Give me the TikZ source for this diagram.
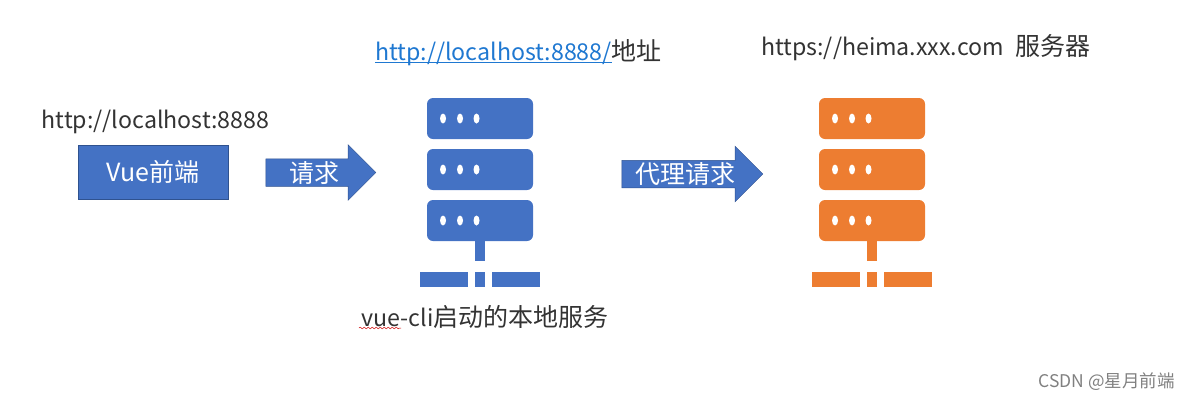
\documentclass[tikz,border=0pt]{standalone}
\usepackage{fontspec}
\setmainfont{Noto Sans CJK SC}
\usetikzlibrary{shapes.arrows,decorations.pathmorphing}
\definecolor{vueblue}{HTML}{4472C4}
\definecolor{vueedge}{HTML}{2F528F}
\definecolor{heimaorange}{HTML}{ED7D31}
\definecolor{linkblue}{HTML}{1F78D1}
\definecolor{labelgray}{HTML}{333333}
\newsavebox{\linkbox}
\newcommand{\linkword}[1]{\sbox{\linkbox}{#1}\rlap{\rule[-3pt]{\wd\linkbox}{1pt}}\usebox{\linkbox}}
\newcommand{\cnword}[1]{{\fontsize{25}{25}\selectfont #1}}
\newcommand{\serverrack}[2]{
	\begin{scope}[xshift=#1pt,fill=#2]
		\foreach \rowtop in {98,149,200}{
			\fill[#2,rounded corners=6pt] (427,\rowtop) rectangle (533,\rowtop+41);
			\foreach \dotx in {443,460,476.5}
				\fill[white] (\dotx,\rowtop+20.5) ellipse (3 and 5);
		}
		\fill[#2] (475,241) rectangle (485,261);
		\fill[#2] (420,272) rectangle (468,287);
		\fill[#2] (475,272) rectangle (485,287);
		\fill[#2] (492,272) rectangle (540,287);
	\end{scope}
}
\begin{document}
\begin{tikzpicture}[x=1pt,y=-1pt]
	\tikzset{label text/.style={text=labelgray,font=\fontsize{23.2}{24}\selectfont,inner sep=0pt}}
	\tikzset{flow arrow/.style={single arrow,draw=vueedge,fill=vueblue,text=white,font=\fontsize{25}{25}\selectfont,inner sep=0pt,single arrow head extend=14pt,text height=23pt,text depth=4pt,minimum width=55pt,line width=0.5pt}}
	\useasboundingbox (0,0) rectangle (1190,400);
	\node[label text] (frontendurl) at (155.5,122) {http://localhost:8888};
	\node[draw=vueedge,fill=vueblue,text=white,font=\fontsize{25}{25}\selectfont,minimum width=149.5pt,minimum height=54pt,inner sep=0pt,line width=0.5pt] (frontend) at (153,172) {Vue前端};
	\node[flow arrow,minimum height=110pt] (request) at (314,172.5) {请求};
	\node[label text] (localurl) at (518.5,52.5) {\textcolor{linkblue}{\linkword{http://localhost:8888/}}\cnword{地址}};
	\serverrack{0}{vueblue}
	\node[label text] (localservice) at (485,317) {vue-cli\cnword{启动的本地服务}};
	\coordinate (squigglestart) at (359,328);
	\coordinate (squiggleend) at (401,328);
	\draw[red!80!black,line width=0.5pt,decorate,decoration={snake,amplitude=0.8pt,segment length=4pt}] (squigglestart) -- (squiggleend);
	\node[flow arrow,minimum height=141pt] (proxyrequest) at (685.5,174) {代理请求};
	\node[label text] (remoteurl) at (926,48) {https://heima.xxx.com\hspace{12pt}\cnword{服务器}};
	\serverrack{392}{heimaorange}
	\node[text=gray,font=\fontsize{17.5}{18}\selectfont,inner sep=0pt] (watermark) at (1106.5,382) {CSDN @星月前端};
\end{tikzpicture}
\end{document}
